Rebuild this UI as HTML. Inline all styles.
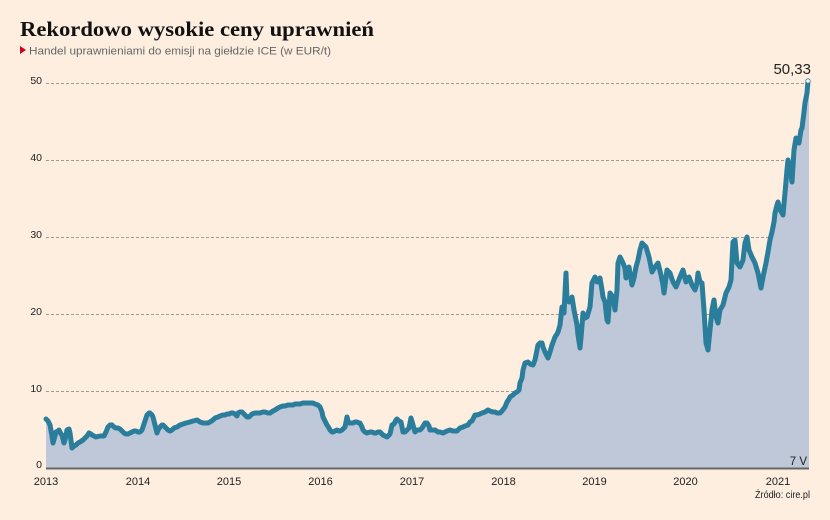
<!DOCTYPE html>
<html><head><meta charset="utf-8"><style>
html,body{margin:0;padding:0;background:#fdeee0;}
svg{display:block;}
</style></head><body>
<svg width="830" height="520" viewBox="0 0 830 520" xmlns="http://www.w3.org/2000/svg">
<rect width="830" height="520" fill="#fdeee0"/>
<text x="20" y="36" font-family="Liberation Serif, serif" font-weight="bold" font-size="21" fill="#111" textLength="354" lengthAdjust="spacingAndGlyphs">Rekordowo wysokie ceny uprawnień</text>
<polygon points="20,46 26,50 20,54" fill="#d0021b"/>
<text x="29" y="54.5" font-family="Liberation Sans, sans-serif" font-size="11" fill="#666" textLength="302" lengthAdjust="spacingAndGlyphs">Handel uprawnieniami do emisji na giełdzie ICE (w EUR/t)</text>

<g stroke="#a09a94" stroke-width="1" stroke-dasharray="3,2">
<line x1="46" y1="83.5" x2="809" y2="83.5"/>
<line x1="46" y1="160.5" x2="809" y2="160.5"/>
<line x1="46" y1="237.5" x2="809" y2="237.5"/>
<line x1="46" y1="314.5" x2="809" y2="314.5"/>
<line x1="46" y1="391.5" x2="809" y2="391.5"/>
</g>
<g font-family="Liberation Sans, sans-serif" font-size="10.5" fill="#222" text-anchor="end">
<text x="42" y="84">50</text>
<text x="42" y="161">40</text>
<text x="42" y="238">30</text>
<text x="42" y="315">20</text>
<text x="42" y="392">10</text>
<text x="42" y="468">0</text>
</g>

<polygon fill="#bec8d9" points="46,468 46,419 48,421 50,425 52,436 53,443 55,436 56,432 58,431 59,430 61,434 62,435 64,443 65,440 67,430 69,429 70,433 72,448 74,446 76,445 78,443 80,442 83,440 85,438 87,436 89,433 91,434 92,435 94,436 96,437 100,436 104,436 106,432 108,427 110,425 112,425 114,427 116,428 118,428 120,429 122,431 124,433 126,434 128,434 130,433 132,432 134,431 136,431 138,432 140,432 142,430 143,427 145,421 147,415 149,413 150,413 152,415 153,417 155,425 157,433 158,430 160,427 162,425 163,425 165,427 166,428 168,430 170,431 172,430 174,428 177,427 180,425 183,424 186,423 190,422 193,421 197,420 200,422 203,423 205,423 208,423 210,422 213,420 215,418 218,417 220,416 223,415 225,415 227,414 229,414 231,413 233,413 235,414 237,416 238,413 240,412 242,412 243,413 245,415 247,417 249,417 250,416 252,414 255,413 258,413 260,413 263,412 265,412 268,413 270,413 273,411 275,410 278,408 280,407 283,406 285,406 288,405 290,405 293,405 295,404 298,404 300,404 303,403 305,403 308,403 310,403 313,403 315,404 318,405 320,407 322,412 323,417 325,421 327,425 329,428 330,430 332,432 333,432 335,431 337,430 339,431 340,431 342,430 345,427 346,422 347,417 348,421 349,423 351,423 353,423 355,422 357,422 359,423 360,423 362,427 363,430 365,432 367,433 370,432 372,432 374,433 376,433 378,432 380,432 382,434 383,435 385,436 387,437 388,436 390,434 392,425 394,424 396,420 397,419 399,421 401,422 403,432 405,432 407,430 409,428 411,418 413,425 415,432 417,430 420,430 422,428 425,423 427,423 429,426 430,430 433,430 435,430 438,432 440,432 443,433 445,432 447,431 450,430 453,431 455,431 457,431 460,428 463,427 465,426 468,425 470,422 472,421 475,415 477,415 480,414 482,413 485,412 488,410 490,411 493,412 495,412 497,413 500,413 502,411 505,407 507,402 509,399 510,397 513,395 515,393 517,392 519,390 520,383 522,378 523,370 525,363 528,362 530,364 533,365 535,360 538,345 540,343 542,343 543,347 545,352 548,358 550,352 552,345 555,337 557,334 558,332 560,325 562,307 563,310 564,313 566,273 567,300 569,302 572,297 574,310 577,325 578,335 580,348 581,338 583,313 585,318 587,317 590,307 592,283 595,277 597,282 600,278 602,290 603,297 605,302 607,320 608,322 610,293 613,297 615,310 617,290 618,263 620,257 623,263 625,268 626,278 628,270 629,267 632,285 634,278 636,267 638,260 640,250 642,243 644,245 646,247 649,257 652,272 655,267 658,263 661,275 663,285 664,293 667,270 670,273 673,282 676,287 678,282 680,277 683,270 686,282 689,277 692,285 695,290 697,283 698,273 700,282 702,283 704,310 706,343 708,350 710,330 712,310 714,300 716,317 718,323 720,310 723,305 726,293 729,287 731,280 733,242 735,240 737,263 740,267 743,260 745,243 747,237 749,250 752,257 755,263 758,273 760,283 761,288 763,277 766,263 768,252 770,240 772,232 774,222 775,213 777,205 778,202 780,210 782,213 783,215 785,193 787,170 788,160 790,170 791,175 792,182 794,150 796,138 797,140 799,143 801,130 802,128 804,112 805,103 807,93 808,81 809,81 809,468"/>

<polyline fill="none" stroke="#2a7d9b" stroke-width="5" stroke-linejoin="round" stroke-linecap="round" points="46,419 48,421 50,425 52,436 53,443 55,436 56,432 58,431 59,430 61,434 62,435 64,443 65,440 67,430 69,429 70,433 72,448 74,446 76,445 78,443 80,442 83,440 85,438 87,436 89,433 91,434 92,435 94,436 96,437 100,436 104,436 106,432 108,427 110,425 112,425 114,427 116,428 118,428 120,429 122,431 124,433 126,434 128,434 130,433 132,432 134,431 136,431 138,432 140,432 142,430 143,427 145,421 147,415 149,413 150,413 152,415 153,417 155,425 157,433 158,430 160,427 162,425 163,425 165,427 166,428 168,430 170,431 172,430 174,428 177,427 180,425 183,424 186,423 190,422 193,421 197,420 200,422 203,423 205,423 208,423 210,422 213,420 215,418 218,417 220,416 223,415 225,415 227,414 229,414 231,413 233,413 235,414 237,416 238,413 240,412 242,412 243,413 245,415 247,417 249,417 250,416 252,414 255,413 258,413 260,413 263,412 265,412 268,413 270,413 273,411 275,410 278,408 280,407 283,406 285,406 288,405 290,405 293,405 295,404 298,404 300,404 303,403 305,403 308,403 310,403 313,403 315,404 318,405 320,407 322,412 323,417 325,421 327,425 329,428 330,430 332,432 333,432 335,431 337,430 339,431 340,431 342,430 345,427 346,422 347,417 348,421 349,423 351,423 353,423 355,422 357,422 359,423 360,423 362,427 363,430 365,432 367,433 370,432 372,432 374,433 376,433 378,432 380,432 382,434 383,435 385,436 387,437 388,436 390,434 392,425 394,424 396,420 397,419 399,421 401,422 403,432 405,432 407,430 409,428 411,418 413,425 415,432 417,430 420,430 422,428 425,423 427,423 429,426 430,430 433,430 435,430 438,432 440,432 443,433 445,432 447,431 450,430 453,431 455,431 457,431 460,428 463,427 465,426 468,425 470,422 472,421 475,415 477,415 480,414 482,413 485,412 488,410 490,411 493,412 495,412 497,413 500,413 502,411 505,407 507,402 509,399 510,397 513,395 515,393 517,392 519,390 520,383 522,378 523,370 525,363 528,362 530,364 533,365 535,360 538,345 540,343 542,343 543,347 545,352 548,358 550,352 552,345 555,337 557,334 558,332 560,325 562,307 563,310 564,313 566,273 567,300 569,302 572,297 574,310 577,325 578,335 580,348 581,338 583,313 585,318 587,317 590,307 592,283 595,277 597,282 600,278 602,290 603,297 605,302 607,320 608,322 610,293 613,297 615,310 617,290 618,263 620,257 623,263 625,268 626,278 628,270 629,267 632,285 634,278 636,267 638,260 640,250 642,243 644,245 646,247 649,257 652,272 655,267 658,263 661,275 663,285 664,293 667,270 670,273 673,282 676,287 678,282 680,277 683,270 686,282 689,277 692,285 695,290 697,283 698,273 700,282 702,283 704,310 706,343 708,350 710,330 712,310 714,300 716,317 718,323 720,310 723,305 726,293 729,287 731,280 733,242 735,240 737,263 740,267 743,260 745,243 747,237 749,250 752,257 755,263 758,273 760,283 761,288 763,277 766,263 768,252 770,240 772,232 774,222 775,213 777,205 778,202 780,210 782,213 783,215 785,193 787,170 788,160 790,170 791,175 792,182 794,150 796,138 797,140 799,143 801,130 802,128 804,112 805,103 807,93 808,81"/>
<circle cx="808" cy="81" r="2.2" fill="#fff" stroke="#2a7d9b" stroke-width="0.8"/>

<line x1="46" y1="468.5" x2="809" y2="468.5" stroke="#666" stroke-width="2"/>

<text x="811" y="74" font-family="Liberation Sans, sans-serif" font-size="15" fill="#222" text-anchor="end">50,33</text>
<text x="807" y="465" font-family="Liberation Sans, sans-serif" font-size="11.5" fill="#222" text-anchor="end">7 V</text>

<g font-family="Liberation Sans, sans-serif" font-size="11" fill="#222" text-anchor="middle">
<text x="46" y="485">2013</text>
<text x="138" y="485">2014</text>
<text x="229" y="485">2015</text>
<text x="320.5" y="485">2016</text>
<text x="412" y="485">2017</text>
<text x="503.5" y="485">2018</text>
<text x="594.5" y="485">2019</text>
<text x="685.5" y="485">2020</text>
<text x="778" y="485">2021</text>
</g>
<text x="810" y="498" font-family="Liberation Sans Narrow, Liberation Sans, sans-serif" font-size="10" fill="#222" text-anchor="end" textLength="55" lengthAdjust="spacingAndGlyphs">Źródło: cire.pl</text>
</svg>
</body></html>
